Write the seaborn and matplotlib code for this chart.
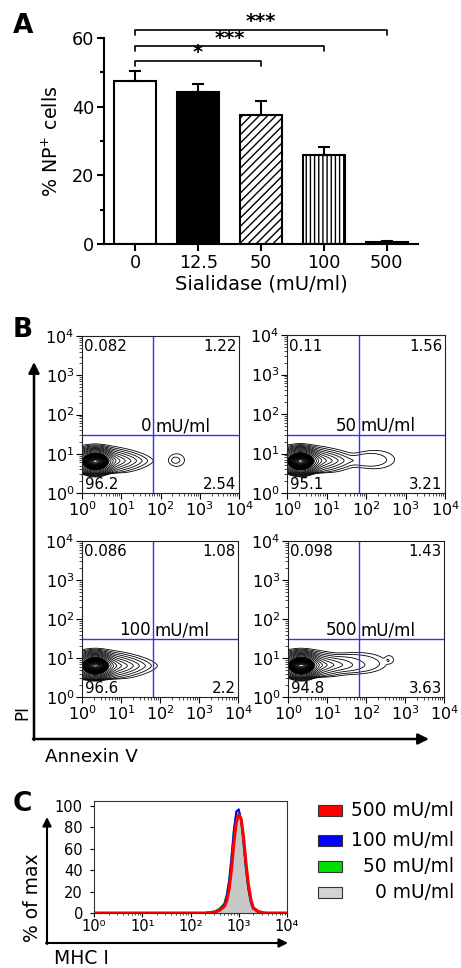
import numpy as np
import pandas as pd
import matplotlib
matplotlib.use("Agg")
import matplotlib.pyplot as plt
import seaborn as sns
from matplotlib.patches import Rectangle
from matplotlib.ticker import LogLocator, NullFormatter, MultipleLocator, FuncFormatter

sns.set_theme(style="ticks")
plt.rcParams["font.family"] = ["DejaVu Sans"]
plt.rcParams["mathtext.fontset"] = "dejavusans"
plt.rcParams["hatch.linewidth"] = 1.0
for k in ["text.color", "axes.labelcolor", "xtick.color", "ytick.color", "axes.edgecolor"]:
    plt.rcParams[k] = "black"

W, H = 461, 968

# ---------------- data ----------------
# Panel A
doses = ["0", "12.5", "50", "100", "500"]
np_pct = [47.5, 44.3, 37.6, 25.9, 0.5]
np_sem = [2.9, 2.3, 4.0, 2.4, 0.4]
bar_fill = ["white", "black", "white", "white", "black"]
bar_hatch = ["", "", "////", "||||", ""]
sig_pairs = [(0, 2), (0, 3), (0, 4)]
sig_labels = ["*", "***", "***"]
sig_heights = [53.4, 57.6, 62.3]

# Panel B
flow_doses = ["0", "50", "100", "500"]
quad_UL = ["0.082", "0.11", "0.086", "0.098"]
quad_UR = ["1.22", "1.56", "1.08", "1.43"]
quad_LL = ["96.2", "95.1", "96.6", "94.8"]
quad_LR = ["2.54", "3.21", "2.2", "3.63"]
gate_x = 66
gate_y = 30
# cell populations: log10 centre x, log10 centre y, spread left, spread right,
# spread y, weight, radial exponent, shape norm, lower detection floor (log10 y or None)
core = (0.34, 0.80, 0.24, 0.24, 0.17, 0.80, 2, 2, None)
pops_0 = [core, (0.33, 0.82, 0.36, 0.38, 0.105, 0.20, 1, 1.6, 0.5),
          (2.42, 0.84, 0.24, 0.24, 0.20, 0.0052, 4, 2, None)]
pops_50 = [core, (0.33, 0.82, 0.36, 0.40, 0.105, 0.20, 1, 1.6, 0.5),
           (2.27, 0.85, 0.57, 0.57, 0.28, 0.0052, 4, 2, None)]
pops_100 = [core, (0.33, 0.80, 0.36, 0.41, 0.11, 0.20, 1, 1.6, 0.45)]
pops_500 = [core, (0.33, 0.82, 0.36, 0.40, 0.105, 0.20, 1, 1.6, 0.5),
            (1.90, 0.88, 0.75, 0.75, 0.30, 0.0052, 4, 2, None),
            (2.62, 0.98, 0.13, 0.13, 0.13, 0.0030, 4, 2, None)]
flow_pops = [pops_0, pops_50, pops_100, pops_500]
tail_levels = np.geomspace(0.004, 0.17, 11)
core_levels = np.geomspace(0.2, 0.995, 24)

# Panel C (histogram readings, log10 MHC I vs % of max)
hist_logx = [0.0, 2.30, 2.40, 2.50, 2.60, 2.70, 2.75, 2.80, 2.85, 2.90, 2.95, 3.00,
             3.05, 3.10, 3.15, 3.20, 3.25, 3.30, 3.40, 3.50, 3.60, 4.0]
hist_0 = [0, 0, 0.5, 1, 3, 7, 14, 27, 48, 74, 93, 97, 88, 66, 42, 22, 10, 4, 1, 0, 0, 0]
hist_50 = [0, 0, 0.8, 1.5, 4, 9, 17, 31, 53, 78, 94, 96, 86, 64, 40, 22, 10, 4, 1, 0, 0, 0]
hist_100 = [0, 0, 0.5, 1.2, 3.5, 8, 16, 30, 52, 78, 95, 97, 87, 65, 41, 22, 10, 4, 1, 0, 0, 0]
hist_500 = [0, 0, 0.3, 0.8, 2.5, 6, 11, 22, 41, 66, 85, 92, 88, 71, 47, 27, 13, 5, 1.5, 0.3, 0, 0]
legend_labels = ["500 mU/ml", "100 mU/ml", "50 mU/ml", "0 mU/ml"]
legend_colors = ["#ff0000", "#0000ff", "#00dd00", "#d3d3d3"]

# ---------------- figure ----------------
fig = plt.figure(figsize=(W / 100, H / 100), dpi=100)
fig.patch.set_facecolor("white")


def px_axes(l, t, r, b):
    return fig.add_axes([l / W, 1 - b / H, (r - l) / W, (b - t) / H])


ov = fig.add_axes([0, 0, 1, 1], zorder=-1)
ov.set_xlim(0, W)
ov.set_ylim(H, 0)
ov.axis("off")

SUP = str.maketrans("0123456789-", "⁰¹²³⁴⁵⁶⁷⁸⁹⁻")
decade_fmt = FuncFormatter(lambda v, pos: "10" + str(int(round(np.log10(v)))).translate(SUP))

# ---------------- Panel A ----------------
axA = px_axes(104, 38, 418, 244)
dfA = pd.DataFrame({"dose": doses, "pct": np_pct})
sns.barplot(data=dfA, x="dose", y="pct", hue="dose", order=doses, hue_order=doses,
            palette=bar_fill, legend=False, width=0.67, edgecolor="black",
            linewidth=1.5, errorbar=None, ax=axA, saturation=1)
for p, h in zip(axA.patches, bar_hatch):
    if h:
        p.set_hatch(h)
axA.errorbar(range(len(doses)), np_pct, yerr=[np.zeros(len(doses)), np_sem],
             fmt="none", ecolor="black", elinewidth=1.5, capsize=4.5, capthick=1.5)
axA.set_ylim(0, 60)
axA.set_xlim(-0.5, 4.5)
axA.yaxis.set_major_locator(MultipleLocator(20))
axA.yaxis.set_minor_locator(MultipleLocator(10))
axA.tick_params(axis="both", which="major", labelsize=12.7, width=1.5, length=5, pad=2)
axA.tick_params(axis="y", which="minor", width=1.5, length=3)
for s in ["top", "right"]:
    axA.spines[s].set_visible(False)
for s in ["left", "bottom"]:
    axA.spines[s].set_linewidth(1.5)
axA.set_xlabel("Sialidase (mU/ml)", fontsize=14, labelpad=2)
axA.set_ylabel("% NP$^{+}$ cells", fontsize=13.7, labelpad=7)
for (a, b), lab, hgt in zip(sig_pairs, sig_labels, sig_heights):
    axA.plot([a, a, b, b], [hgt - 1.5, hgt, hgt, hgt - 1.5], color="black",
             lw=1.2, clip_on=False)
    axA.text((a + b) / 2, hgt - 0.4, lab, ha="center", va="bottom", fontsize=14,
             fontweight="bold", clip_on=False)

ov.text(13, 26, "A", fontsize=19, fontweight="bold", va="center", ha="left")

# ---------------- Panel B ----------------
b_boxes = [(82, 336, 239, 493), (287, 335, 445, 493),
           (82, 541, 238, 697), (288, 541, 444, 697)]
lg = np.linspace(0, 4, 401)
GX, GY = np.meshgrid(lg, lg)


def pop_density(comps):
    Z = np.zeros_like(GX)
    for mx, my, sxl, sxr, sy, w, pw, q, floor in comps:
        dx = GX - mx
        sx = np.where(dx < 0, sxl, sxr)
        r = (np.abs(dx / sx) ** q + np.abs((GY - my) / sy) ** q) ** (1.0 / q)
        comp = w * np.exp(-(r ** pw))
        if floor is not None:
            comp = comp / (1 + np.exp(-(GY - floor) / 0.012))
        Z += comp
    return Z


for box, dose, ul, ur, ll, lr, pops in zip(b_boxes, flow_doses, quad_UL, quad_UR,
                                           quad_LL, quad_LR, flow_pops):
    ax = px_axes(*box)
    Z = pop_density(pops)
    levels = np.concatenate([tail_levels, core_levels])
    ax.contour(10 ** GX, 10 ** GY, Z, levels=levels, colors="black", linewidths=0.6)
    ax.set_xscale("log")
    ax.set_yscale("log")
    ax.set_xlim(1, 1e4)
    ax.set_ylim(1, 1e4)
    ax.axvline(gate_x, color="#3030ff", lw=1.0)
    ax.axhline(gate_y, color="#3030ff", lw=1.0)
    for a in (ax.xaxis, ax.yaxis):
        a.set_major_locator(LogLocator(base=10, numticks=10))
        a.set_minor_locator(LogLocator(base=10, subs=np.arange(2, 10), numticks=10))
        a.set_minor_formatter(NullFormatter())
    ax.tick_params(which="major", labelsize=11.5, length=4, width=0.8, pad=1.5)
    ax.tick_params(which="minor", length=2, width=0.5)
    for s in ax.spines.values():
        s.set_linewidth(0.8)
        s.set_color("#222222")
    ax.text(0.015, 0.93, ul, transform=ax.transAxes, fontsize=10.8, va="center", ha="left")
    ax.text(0.985, 0.93, ur, transform=ax.transAxes, fontsize=10.8, va="center", ha="right")
    ax.text(0.02, 0.055, ll, transform=ax.transAxes, fontsize=10.8, va="center", ha="left")
    ax.text(0.985, 0.055, lr, transform=ax.transAxes, fontsize=10.8, va="center", ha="right")
    ax.text(gate_x / 10 ** 0.05, gate_y * 10 ** 0.1, dose, fontsize=12,
            ha="right", va="baseline")
    ax.text(gate_x * 10 ** 0.05, gate_y * 10 ** 0.1, "mU/ml", fontsize=12,
            ha="left", va="baseline")

ov.text(13, 330, "B", fontsize=19, fontweight="bold", va="center", ha="left")
ov.annotate("", xy=(34, 362), xytext=(34, 740),
            arrowprops=dict(arrowstyle="-|>", lw=1.8, color="black", mutation_scale=16,
                            shrinkA=0, shrinkB=0))
ov.annotate("", xy=(429, 739), xytext=(33, 739),
            arrowprops=dict(arrowstyle="-|>", lw=1.8, color="black", mutation_scale=16,
                            shrinkA=0, shrinkB=0))
ov.text(22, 712, "PI", rotation=90, fontsize=12, ha="center", va="center")
ov.text(45, 757, "Annexin V", fontsize=13.2, ha="left", va="center")

# ---------------- Panel C ----------------
axC = px_axes(94, 801, 287, 913)
hx = 10 ** np.array(hist_logx)
axC.fill_between(hx, hist_0, color="#c8c8c8", lw=0)
sns.lineplot(x=hx, y=hist_0, ax=axC, color="#b0b0b0", lw=0.8, sort=False, estimator=None)
sns.lineplot(x=hx, y=hist_50, ax=axC, color="#00dd00", lw=1.4, sort=False, estimator=None)
sns.lineplot(x=hx, y=hist_100, ax=axC, color="#0000ff", lw=1.4, sort=False, estimator=None)
sns.lineplot(x=hx, y=hist_500, ax=axC, color="#ff0000", lw=2.2, sort=False, estimator=None)
axC.set_xscale("log")
axC.set_xlim(1, 1e4)
axC.set_ylim(0, 104.7)
axC.yaxis.set_major_locator(MultipleLocator(20))
axC.xaxis.set_major_locator(LogLocator(base=10, numticks=10))
axC.xaxis.set_minor_locator(LogLocator(base=10, subs=np.arange(2, 10), numticks=10))
axC.xaxis.set_minor_formatter(NullFormatter())
axC.xaxis.set_major_formatter(decade_fmt)
axC.tick_params(which="major", labelsize=10.5, length=3, width=0.8)
axC.tick_params(axis="y", which="major", pad=5)
axC.tick_params(axis="x", which="major", pad=1.5)
axC.tick_params(which="minor", length=1.5, width=0.5)
for s in axC.spines.values():
    s.set_linewidth(0.8)
    s.set_color("#333333")

ov.text(13, 804, "C", fontsize=19, fontweight="bold", va="center", ha="left")
ov.annotate("", xy=(47, 817), xytext=(47, 944),
            arrowprops=dict(arrowstyle="-|>", lw=1.5, color="black", mutation_scale=13,
                            shrinkA=0, shrinkB=0))
ov.annotate("", xy=(288, 943), xytext=(46, 943),
            arrowprops=dict(arrowstyle="-|>", lw=1.5, color="black", mutation_scale=13,
                            shrinkA=0, shrinkB=0))
ov.text(33, 898, "% of max", rotation=90, fontsize=13.5, ha="center", va="center")
ov.text(54, 959, "MHC I", fontsize=13.5, ha="left", va="center")

leg_y = [810, 840, 866, 892]
for yy, lab, col in zip(leg_y, legend_labels, legend_colors):
    ov.add_patch(Rectangle((318, yy - 5.5), 24, 11, facecolor=col, edgecolor="#333333",
                           lw=0.8))
    ov.text(454, yy, lab, fontsize=13.4, ha="right", va="center")

fig.savefig("out.png", dpi=100, facecolor="white")
